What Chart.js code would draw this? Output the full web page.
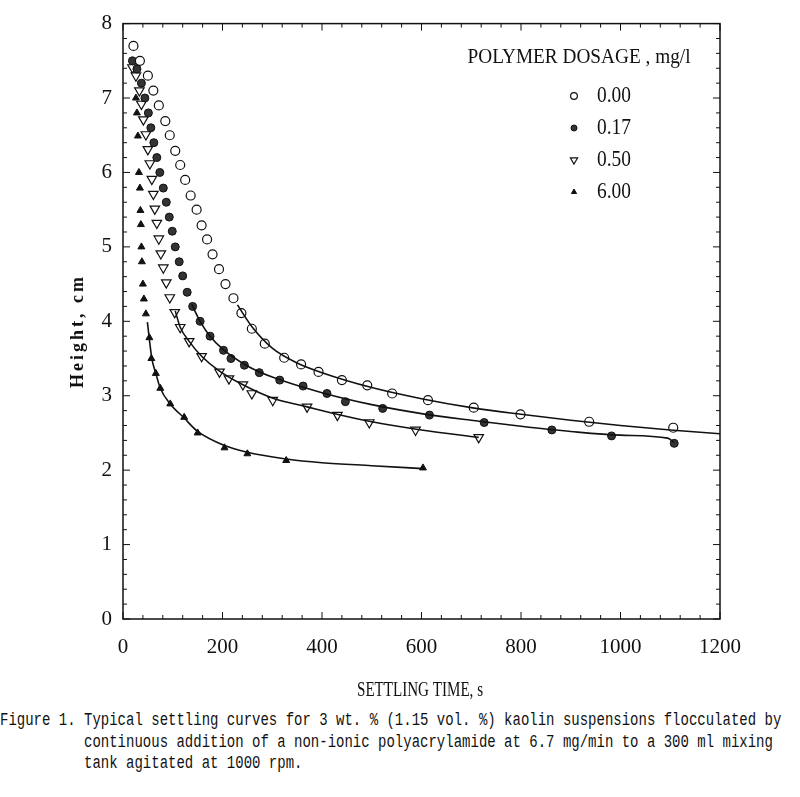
<!DOCTYPE html>
<html>
<head>
<meta charset="utf-8">
<script src="https://cdn.jsdelivr.net/npm/chart.js@4.4.1/dist/chart.umd.min.js"></script>
<style>
  body { margin: 0; background: #fff; width: 800px; height: 797px; overflow: hidden; }
  #wrap { position: relative; width: 800px; height: 705px; }
  .caption { font-family: "Liberation Mono", monospace; font-size: 14px; color: #111;
             white-space: pre; transform: scale(1, 1.3); transform-origin: left top; height: 21.5px; }
</style>
</head>
<body>
<div id="wrap"><canvas id="settling" width="800" height="705"></canvas></div>
<div style="margin-top: 4px;">
  <div class="caption">Figure 1. Typical settling curves for 3 wt. % (1.15 vol. %) kaolin suspensions flocculated by</div>
  <div class="caption">          continuous addition of a non-ionic polyacrylamide at 6.7 mg/min to a 300 ml mixing</div>
  <div class="caption">          tank agitated at 1000 rpm.</div>
</div>
<script>
// axis ticks
const xTicks = [0, 200, 400, 600, 800, 1000, 1200];
const yTicks = [0, 1, 2, 3, 4, 5, 6, 7, 8];

// legend labels
const dosageLabels = ["0.00", "0.17", "0.50", "6.00"];

// measured points, dosage 0.00 mg/l
const timeA = [21, 34, 50, 61, 72, 85, 94, 105, 115, 125, 136, 148, 158, 169, 180, 193, 206, 222, 238, 259, 285, 324, 358, 393, 440, 491, 541, 613, 705, 799, 937, 1106];
const heightA = [7.70, 7.50, 7.30, 7.10, 6.90, 6.69, 6.50, 6.29, 6.10, 5.90, 5.69, 5.50, 5.29, 5.10, 4.90, 4.70, 4.50, 4.31, 4.11, 3.90, 3.70, 3.51, 3.42, 3.32, 3.21, 3.14, 3.03, 2.94, 2.84, 2.75, 2.65, 2.57];

// dosage 0.17 mg/l
const timeB = [19, 28, 37, 44, 51, 56, 62, 68, 74, 81, 87, 93, 99, 105, 113, 120, 129, 140, 155, 175, 202, 217, 244, 274, 315, 362, 410, 447, 522, 616, 726, 862, 982, 1108];
const heightB = [7.50, 7.39, 7.20, 7.00, 6.80, 6.60, 6.40, 6.20, 6.00, 5.79, 5.60, 5.40, 5.21, 5.00, 4.80, 4.61, 4.39, 4.20, 4.00, 3.80, 3.61, 3.50, 3.41, 3.31, 3.21, 3.13, 3.03, 2.92, 2.83, 2.74, 2.64, 2.54, 2.46, 2.36];

// dosage 0.50 mg/l
const timeC = [19, 26, 33, 37, 41, 46, 50, 54, 58, 61, 64, 68, 72, 76, 81, 87, 94, 104, 115, 133, 158, 194, 213, 241, 259, 301, 370, 431, 495, 588, 715];
const heightC = [7.41, 7.30, 7.10, 6.92, 6.71, 6.51, 6.31, 6.12, 5.91, 5.71, 5.51, 5.32, 5.11, 4.91, 4.72, 4.52, 4.32, 4.12, 3.92, 3.73, 3.53, 3.32, 3.23, 3.15, 3.03, 2.94, 2.85, 2.74, 2.64, 2.54, 2.44];

// dosage 6.00 mg/l
const timeD = [26, 28, 30, 32, 34, 35, 36, 37, 38, 40, 42, 46, 53, 57, 66, 75, 95, 123, 150, 204, 250, 328, 603];
const heightD = [7.00, 6.80, 6.49, 6.00, 5.79, 5.49, 5.30, 5.00, 4.80, 4.50, 4.30, 4.10, 3.78, 3.50, 3.30, 3.10, 2.89, 2.71, 2.50, 2.30, 2.22, 2.13, 2.03];

// fitted curves
const fitTimeA = [230, 260, 300, 350, 400, 500, 600, 700, 800, 900, 1000, 1100, 1200];
const fitHeightA = [4.22, 3.92, 3.64, 3.44, 3.31, 3.11, 2.96, 2.84, 2.75, 2.67, 2.60, 2.54, 2.49];
const fitTimeB = [138, 155, 175, 200, 250, 300, 400, 500, 600, 700, 800, 900, 1000, 1095, 1108];
const fitHeightB = [4.23, 4.00, 3.80, 3.63, 3.40, 3.25, 3.04, 2.88, 2.76, 2.67, 2.59, 2.52, 2.47, 2.43, 2.37];
const fitTimeC = [105, 115, 133, 158, 194, 240, 300, 370, 430, 500, 600, 715];
const fitHeightC = [4.14, 3.92, 3.73, 3.53, 3.33, 3.15, 2.97, 2.85, 2.75, 2.65, 2.54, 2.44];
const fitTimeD = [49, 58, 66, 75, 95, 123, 150, 204, 250, 328, 400, 500, 603];
const fitHeightD = [3.99, 3.50, 3.30, 3.10, 2.89, 2.70, 2.52, 2.33, 2.24, 2.15, 2.10, 2.06, 2.02];

const INK = "#111";
const pairs = (xs, ys) => xs.map((x, i) => ({ x: x, y: ys[i] }));

// marker styles for each dosage (also used by the legend)
const markers = [
  { pointStyle: "circle", radius: 4.5, rotation: 0, fill: "#fff", border: 1.2 },
  { pointStyle: "circle", radius: 4, rotation: 0, fill: "#333", border: 1 },
  { pointStyle: "triangle", radius: 5.5, rotation: 180, fill: "#fff", border: 1.2 },
  { pointStyle: "triangle", radius: 4, rotation: 0, fill: INK, border: 1 },
];

function pointSet(xs, ys, m) {
  return {
    data: pairs(xs, ys),
    showLine: false,
    pointStyle: m.pointStyle,
    pointRotation: m.rotation,
    pointRadius: m.radius,
    pointBackgroundColor: m.fill,
    pointBorderColor: INK,
    pointBorderWidth: m.border,
  };
}

function curveSet(xs, ys) {
  return {
    data: pairs(xs, ys),
    showLine: true,
    borderColor: INK,
    borderWidth: 1.6,
    pointRadius: 0,
    cubicInterpolationMode: "monotone",
    fill: false,
  };
}

// text squeezed to a given width (the original uses condensed type)
function fitText(ctx, text, x, y, width, font) {
  ctx.save();
  ctx.font = font;
  const w = ctx.measureText(text).width;
  ctx.translate(x, y);
  ctx.scale(width / w, 1);
  ctx.textAlign = "center";
  ctx.textBaseline = "middle";
  ctx.fillText(text, 0, 0);
  ctx.restore();
}

// frame, inward ticks, axis titles and the legend
const decorations = {
  id: "decorations",
  afterDatasetsDraw(chart) {
    const ctx = chart.ctx;
    const { left, right, top, bottom } = chart.chartArea;
    const xs = chart.scales.x, ys = chart.scales.y;
    ctx.save();
    ctx.strokeStyle = INK;
    ctx.fillStyle = INK;
    ctx.lineWidth = 1.5;
    ctx.strokeRect(left, top, right - left, bottom - top);

    ctx.lineWidth = 1;
    ctx.beginPath();
    for (let v = 0; v <= 1200; v += 40) {
      const px = xs.getPixelForValue(v);
      const len = v % 200 === 0 ? 7 : 4;
      ctx.moveTo(px, bottom); ctx.lineTo(px, bottom - len);
      ctx.moveTo(px, top); ctx.lineTo(px, top + len);
    }
    for (let k = 0; k <= 40; k++) {
      const py = ys.getPixelForValue(k / 5);
      const len = k % 5 === 0 ? 7 : 4;
      ctx.moveTo(left, py); ctx.lineTo(left + len, py);
      ctx.moveTo(right, py); ctx.lineTo(right - len, py);
    }
    ctx.stroke();

    // x title
    fitText(ctx, "SETTLING TIME, s", 420, 690, 126, "21px 'Liberation Serif'");

    // y title
    ctx.save();
    ctx.translate(78, 331);
    ctx.rotate(-Math.PI / 2);
    ctx.font = "bold 18px 'Liberation Serif'";
    ctx.letterSpacing = "3px";
    ctx.textAlign = "center";
    ctx.textBaseline = "middle";
    ctx.fillText("Height, cm", 0, 0);
    ctx.restore();

    // legend
    fitText(ctx, "POLYMER DOSAGE , mg/l", 579, 57, 223, "22px 'Liberation Serif'");
    const rows = [96, 128, 160, 192];
    dosageLabels.forEach((label, i) => {
      const m = markers[i];
      ctx.fillStyle = m.fill;
      ctx.strokeStyle = INK;
      ctx.lineWidth = m.border;
      Chart.helpers.drawPoint(ctx, { pointStyle: m.pointStyle, rotation: m.rotation, radius: m.radius * 0.75, borderWidth: m.border }, 574, rows[i]);
      ctx.fillStyle = INK;
      ctx.save();
      ctx.font = "23px 'Liberation Serif'";
      const w = ctx.measureText(label).width;
      ctx.translate(597, rows[i]);
      ctx.scale(34 / w, 1);
      ctx.textAlign = "left";
      ctx.textBaseline = "middle";
      ctx.fillText(label, 0, 0);
      ctx.restore();
    });
    ctx.restore();
  },
};

new Chart(document.getElementById("settling"), {
  type: "scatter",
  data: {
    datasets: [
      curveSet(fitTimeA, fitHeightA),
      curveSet(fitTimeB, fitHeightB),
      curveSet(fitTimeC, fitHeightC),
      curveSet(fitTimeD, fitHeightD),
      pointSet(timeA, heightA, markers[0]),
      pointSet(timeB, heightB, markers[1]),
      pointSet(timeC, heightC, markers[2]),
      pointSet(timeD, heightD, markers[3]),
    ],
  },
  options: {
    responsive: false,
    animation: false,
    layout: { padding: { left: 0, top: 12, right: 80, bottom: 0 } },
    plugins: { legend: { display: false }, tooltip: { enabled: false } },
    scales: {
      x: {
        type: "linear",
        min: 0,
        max: 1200,
        afterBuildTicks: (s) => { s.ticks = xTicks.map((v) => ({ value: v })); },
        afterFit: (s) => { s.height = 705 - 619; },
        grid: { display: false, drawTicks: false },
        border: { display: false },
        ticks: { color: INK, padding: 16, maxRotation: 0, callback: (v) => String(v), font: { family: "Liberation Serif", size: 21 } },
      },
      y: {
        type: "linear",
        min: 0,
        max: 8,
        afterBuildTicks: (s) => { s.ticks = yTicks.map((v) => ({ value: v })); },
        afterFit: (s) => { s.width = 123; },
        grid: { display: false, drawTicks: false },
        border: { display: false },
        ticks: { color: INK, padding: 11, callback: (v) => String(v), font: { family: "Liberation Serif", size: 21 } },
      },
    },
  },
  plugins: [decorations],
});
</script>
</body>
</html>
